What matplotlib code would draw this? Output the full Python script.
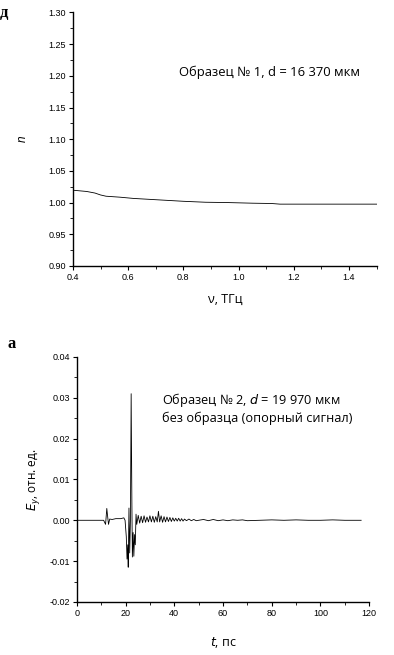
import numpy as np
import matplotlib
matplotlib.use("Agg")
import matplotlib.pyplot as plt
from matplotlib.ticker import MultipleLocator, FormatStrFormatter

# panel "д": refractive index vs frequency
nu_thz = [0.40, 0.45, 0.48, 0.50, 0.52, 0.57, 0.62, 0.70, 0.80, 0.88, 0.96,
          1.05, 1.12, 1.15, 1.25, 1.35, 1.50]
n_index = [1.0195, 1.0175, 1.0150, 1.0120, 1.0100, 1.0085, 1.0065, 1.0045, 1.0020,
           1.0005, 1.0000, 0.9990, 0.9985, 0.9975, 0.9975, 0.9975, 0.9975]

# panel "а": reference THz pulse
t_ps = [0, 11.0, 11.8, 12.3, 12.6, 13.0, 13.5, 14.5, 16.0, 18.0, 19.3, 19.8,
        20.3, 20.6, 20.9, 21.1, 21.4, 21.7, 22.0, 22.3, 22.6, 22.8, 23.1, 23.4,
        23.7, 24.0, 24.3, 24.6, 25.2, 25.8, 26.4, 27.0, 27.6, 28.2, 28.8, 29.4,
        30.0, 30.6, 31.2, 31.8, 32.4, 33.0, 33.5, 34.0, 34.6, 35.2, 35.8, 36.4,
        37.0, 37.6, 38.2, 38.8, 39.4, 40.0, 40.6, 41.2, 41.8, 42.4, 43.0, 43.6,
        44.2, 45.0, 46.0, 47.0, 48.0, 49.0, 50.0, 52.0, 54.0, 56.0, 58.0, 60.0,
        62.0, 64.0, 66.0, 68.0, 70.0, 75.0, 80.0, 85.0, 90.0, 95.0, 100.0,
        105.0, 110.0, 116.7]
e_y = [0, 0, -0.0010, 0.0029, 0.0012, -0.0010, 0.0003, 0.0002, 0.0004, 0.0004,
       0.0006, 0.0000, -0.0040, -0.0095, -0.0060, -0.0115, 0.0030, -0.0080,
       0.0000, 0.0310, 0.0040, -0.0090, -0.0030, -0.0088, -0.0035, -0.0060,
       0.0015, -0.0010, 0.0012, -0.0007, 0.0010, -0.0006, 0.0011, -0.0005,
       0.0008, -0.0004, 0.0011, -0.0004, 0.0010, -0.0005, 0.0009, -0.0004,
       0.0022, -0.0004, 0.0011, -0.0005, 0.0009, -0.0004, 0.0008, -0.0003,
       0.0007, -0.0003, 0.0006, -0.0002, 0.0005, -0.0002, 0.0005, -0.0002,
       0.0004, -0.0002, 0.0003, -0.0001, 0.0003, -0.0001, 0.0002, -0.0001,
       0.0000, 0.0002, -0.0001, 0.0002, -0.0001, 0.0001, -0.0001, 0.0001,
       0.0000, 0.0001, -0.0001, 0.0000, 0.0001, 0.0000, 0.0001, 0.0000,
       0.0000, 0.0001, 0.0000, 0.0000]

plt.rcParams['font.family'] = ['Liberation Sans', 'DejaVu Sans']
TICK_FS = 6.5
TEXT_FONT = ['Open Sans', 'DejaVu Sans']


def style_axes(ax):
    ax.spines['top'].set_visible(False)
    ax.spines['right'].set_visible(False)
    ax.spines['left'].set_linewidth(1.0)
    ax.spines['bottom'].set_linewidth(1.0)
    ax.tick_params(which='major', direction='out', length=3, width=0.8,
                   labelsize=TICK_FS, pad=2)
    ax.tick_params(which='minor', direction='out', length=2, width=0.6)


fig = plt.figure(figsize=(3.94, 6.55), dpi=100)

# top panel
ax1 = fig.add_axes([0.185, 0.594, 0.771, 0.387])
ax1.plot(nu_thz, n_index, color='black', lw=0.6)
ax1.set_xlim(0.4, 1.5)
ax1.set_ylim(0.90, 1.30)
ax1.xaxis.set_major_locator(MultipleLocator(0.2))
ax1.xaxis.set_minor_locator(MultipleLocator(0.1))
ax1.yaxis.set_major_locator(MultipleLocator(0.05))
ax1.yaxis.set_minor_locator(MultipleLocator(0.025))
ax1.xaxis.set_major_formatter(FormatStrFormatter('%.1f'))
ax1.yaxis.set_major_formatter(FormatStrFormatter('%.2f'))
style_axes(ax1)
ax1.set_xlabel('ν, ТГц', fontsize=9, family=TEXT_FONT, labelpad=8)
ax1.set_ylabel('n', fontsize=8.5, style='italic', labelpad=14)
ax1.text(0.35, 0.765, 'Образец № 1, d = 16 370 мкм', transform=ax1.transAxes,
         fontsize=9.4, family=TEXT_FONT, va='center')

# bottom panel
ax2 = fig.add_axes([0.195, 0.081, 0.742, 0.374])
ax2.plot(t_ps, e_y, color='black', lw=0.6)
ax2.set_xlim(0, 120)
ax2.set_ylim(-0.02, 0.04)
ax2.xaxis.set_major_locator(MultipleLocator(20))
ax2.xaxis.set_minor_locator(MultipleLocator(10))
ax2.yaxis.set_major_locator(MultipleLocator(0.01))
ax2.yaxis.set_minor_locator(MultipleLocator(0.005))
ax2.yaxis.set_major_formatter(FormatStrFormatter('%.2f'))
style_axes(ax2)
ax2.set_xlabel('$t$, пс', fontsize=9, family=TEXT_FONT, labelpad=12)
ax2.set_ylabel('$E_y$, отн. ед.', fontsize=8.5, family=TEXT_FONT, labelpad=5)
ax2.text(0.29, 0.79, 'Образец № 2, $d$ = 19 970 мкм\nбез образца (опорный сигнал)',
         transform=ax2.transAxes, fontsize=9.2, family=TEXT_FONT, va='center',
         linespacing=1.25)

# panel letters
fig.text(0.0, 0.993, 'д', fontsize=12, fontweight='bold',
         family=['Liberation Serif', 'DejaVu Serif'], va='top')
fig.text(0.02, 0.487, 'а', fontsize=12, fontweight='bold',
         family=['Liberation Serif', 'DejaVu Serif'], va='top')

fig.savefig('out.png', dpi=100)
